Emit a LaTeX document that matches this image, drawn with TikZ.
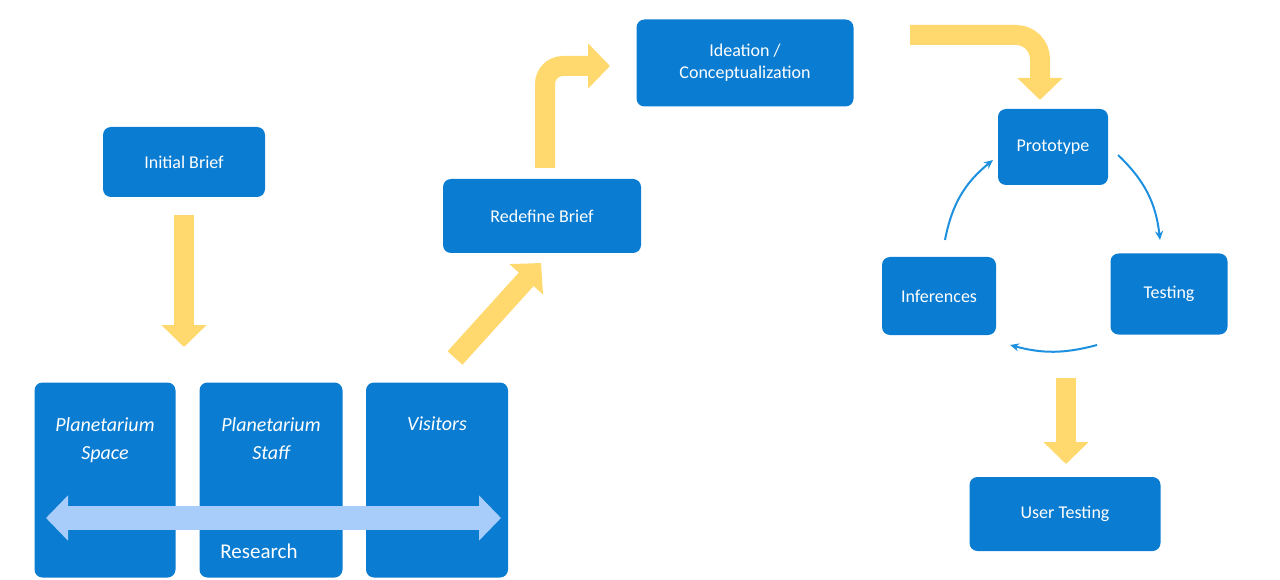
\documentclass[tikz,border=0pt]{standalone}
\usepackage{fontspec}
\setmainfont{Carlito}
\usetikzlibrary{arrows.meta}
\definecolor{boxblue}{HTML}{0A7CD1}
\definecolor{flowgold}{HTML}{FFD86E}
\definecolor{barblue}{HTML}{A9CDFA}
\definecolor{cycleblue}{HTML}{1E90E0}
\tikzstyle{stage}=[rectangle,rounded corners=8pt,fill=boxblue,text=white,font=\fontsize{18}{22}\selectfont,align=center,inner sep=0pt]
\tikzstyle{topic}=[stage,font=\fontsize{20}{28}\selectfont\itshape,anchor=north,fill=none]
\tikzstyle{flow}=[draw=flowgold,line width=20pt,-{Triangle[length=22pt,width=44pt]}]
\tikzstyle{cycle}=[draw=cycleblue,line width=2pt,-{Stealth[length=9pt,width=8pt]}]

\begin{document}
\begin{tikzpicture}[x=1pt,y=-1pt]
	\useasboundingbox (0,0) rectangle (1280,580);
	% stages
	\node [style=stage,minimum width=162pt,minimum height=70pt] (brief) at (184,162) {Initial Brief};
	\node [style=stage,minimum width=198pt,minimum height=74pt] (redefine) at (542,216) {Redefine Brief};
	\node [style=stage,minimum width=217pt,minimum height=87pt] (ideation) at (745,63) {Ideation /\\Conceptualization};
	\node [style=stage,minimum width=110pt,minimum height=76pt] (proto) at (1053,147) {Prototype};
	\node [style=stage,minimum width=117pt,minimum height=81pt] (testing) at (1169,294) {Testing};
	\node [style=stage,minimum width=114pt,minimum height=78pt] (infer) at (939,296) {Inferences};
	\node [style=stage,minimum width=191pt,minimum height=74pt] (user) at (1065,514) {User Testing};
	% research
	\node [style=stage,minimum width=141pt,minimum height=195pt] (space) at (105,480) {};
	\node [style=stage,minimum width=143pt,minimum height=195pt] (staff) at (271,480) {};
	\node [style=stage,minimum width=142pt,minimum height=195pt] (visit) at (437,480) {};
	\node [style=topic] (spacetxt) at (105,417) {Planetarium\\Space};
	\node [style=topic] (stafftxt) at (271,417) {Planetarium\\Staff};
	\node [style=topic] (visittxt) at (437,417) {Visitors};
	\coordinate (barl) at (46,518);
	\coordinate (barr) at (501,518);
	\draw [draw=barblue,line width=24pt,{Triangle[length=22pt,width=44pt]}-{Triangle[length=22pt,width=44pt]}] (barl) -- (barr);
	\node [text=white,font=\fontsize{21}{24}\selectfont] (research) at (259,551) {Research};
	% flow arrows
	\coordinate (a1) at (184,215);
	\coordinate (a2) at (184,347);
	\coordinate (b1) at (455,358);
	\coordinate (b2) at (541,263);
	\coordinate (c1) at (545,168);
	\coordinate (c2) at (545,66);
	\coordinate (c3) at (610,66);
	\coordinate (d1) at (910,35);
	\coordinate (d2) at (1040,35);
	\coordinate (d3) at (1040,100);
	\coordinate (e1) at (1066,378);
	\coordinate (e2) at (1066,464);
	\draw [style=flow] (a1) -- (a2);
	\draw [style=flow] (b1) -- (b2);
	\draw [style=flow,rounded corners=18pt] (c1) -- (c2) -- (c3);
	\draw [style=flow,rounded corners=24pt] (d1) -- (d2) -- (d3);
	\draw [style=flow] (e1) -- (e2);
	% cycle
	\coordinate (f1) at (945,240);
	\coordinate (f2) at (993,160);
	\coordinate (g1) at (1118,155);
	\coordinate (g2) at (1160,240);
	\coordinate (h1) at (1097,345);
	\coordinate (h2) at (1010,345);
	\draw [style=cycle] (f1) to [bend left=20] (f2);
	\draw [style=cycle] (g1) to [bend left=20] (g2);
	\draw [style=cycle] (h1) to [bend left=15] (h2);
\end{tikzpicture}
\end{document}
